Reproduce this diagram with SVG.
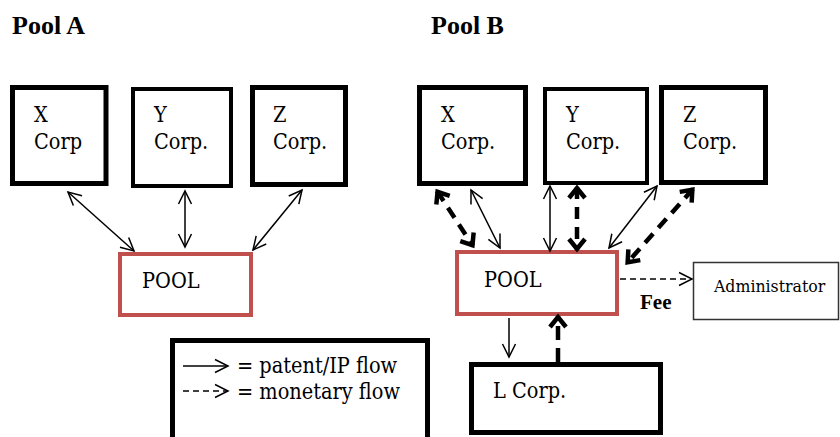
<svg xmlns="http://www.w3.org/2000/svg" width="840" height="437" viewBox="0 0 840 437">
<defs>
<style>
.t{font-family:"DejaVu Serif Condensed","DejaVu Serif",serif;font-stretch:condensed;fill:#000}
.lbl{font-size:21.5px}
.head{font-family:"Liberation Serif",serif;font-size:26px;font-weight:bold;fill:#000}
.corp{fill:#fff;stroke:#000;stroke-width:5}
.corp4{fill:#fff;stroke:#000;stroke-width:4}
.pool{fill:#fff;stroke:#c0504d;stroke-width:4}
.thin{fill:none;stroke:#000;stroke-width:1.5}
.thick{fill:none;stroke:#000;stroke-width:4.5;stroke-dasharray:12 8}
.dash{fill:none;stroke:#000;stroke-width:1.5;stroke-dasharray:6 4}
</style>
<marker id="ah" markerUnits="userSpaceOnUse" viewBox="-14 -8 16 16" markerWidth="16" markerHeight="16" refX="0" refY="0" orient="auto-start-reverse" overflow="visible">
<path d="M-13,-6.5 L0,0 L-13,6.5" fill="none" stroke="#000" stroke-width="1.5" stroke-dasharray="none"/>
</marker>
<marker id="ahk" markerUnits="userSpaceOnUse" viewBox="-14 -10 16 20" markerWidth="16" markerHeight="20" refX="0" refY="0" orient="auto-start-reverse" overflow="visible">
<path d="M-11,-8 L-1,0 L-11,8" fill="none" stroke="#000" stroke-width="4.5" stroke-dasharray="none" stroke-linejoin="miter"/>
</marker>
</defs>
<rect width="840" height="437" fill="#fff"/>

<text class="head" x="12" y="34">Pool A</text>
<text class="head" x="431" y="34">Pool B</text>

<g id="a-x">
<rect class="corp" x="12.5" y="87.5" width="93.5" height="96"/>
<text class="t lbl" x="34" y="122">X</text>
<text class="t lbl" x="34" y="149">Corp</text>
</g>
<g id="a-y">
<rect class="corp4" x="133" y="89" width="98" height="97"/>
<text class="t lbl" x="154" y="122">Y</text>
<text class="t lbl" x="154" y="149">Corp.</text>
</g>
<g id="a-z">
<rect class="corp" x="252.5" y="87.5" width="93" height="97"/>
<text class="t lbl" x="273" y="122">Z</text>
<text class="t lbl" x="273" y="149">Corp.</text>
</g>
<g id="a-pool">
<rect class="pool" x="120" y="254" width="131" height="61"/>
<text class="t lbl" x="142" y="288">POOL</text>
</g>

<g id="b-x">
<rect class="corp" x="419.5" y="87.5" width="106" height="96"/>
<text class="t lbl" x="441" y="122">X</text>
<text class="t lbl" x="441" y="149">Corp.</text>
</g>
<g id="b-y">
<rect class="corp4" x="545" y="89" width="102" height="94"/>
<text class="t lbl" x="566" y="122">Y</text>
<text class="t lbl" x="566" y="149">Corp.</text>
</g>
<g id="b-z">
<rect class="corp" x="661.5" y="87.5" width="104" height="95"/>
<text class="t lbl" x="683" y="122">Z</text>
<text class="t lbl" x="683" y="149">Corp.</text>
</g>
<g id="b-pool">
<rect class="pool" x="457" y="252" width="160" height="62"/>
<text class="t lbl" x="484" y="287">POOL</text>
</g>
<g id="b-admin">
<rect x="693.5" y="262.5" width="145" height="57" fill="#fff" stroke="#333" stroke-width="1.5"/>
<text class="t" x="714" y="292" style="font-size:17.5px">Administrator</text>
</g>
<g id="b-l">
<rect class="corp" x="471.5" y="364.5" width="189" height="68"/>
<text class="t lbl" x="493" y="398">L Corp.</text>
</g>

<g id="legend">
<rect x="172.5" y="340.5" width="255" height="110" fill="#fff" stroke="#000" stroke-width="5"/>
<line class="thin" x1="183" y1="366" x2="228" y2="366" marker-end="url(#ah)"/>
<line class="dash" x1="183" y1="391" x2="228" y2="391" marker-end="url(#ah)"/>
<text class="t lbl" x="237" y="373">= patent/IP flow</text>
<text class="t lbl" x="237" y="399">= monetary flow</text>
</g>

<g id="connectors">
<line class="thin" x1="68" y1="192" x2="134" y2="251" marker-start="url(#ah)" marker-end="url(#ah)"/>
<line class="thin" x1="185" y1="191" x2="185" y2="247" marker-start="url(#ah)" marker-end="url(#ah)"/>
<line class="thin" x1="302" y1="190" x2="253" y2="250" marker-start="url(#ah)" marker-end="url(#ah)"/>

<line class="thin" x1="471" y1="190" x2="500" y2="248" marker-start="url(#ah)" marker-end="url(#ah)"/>
<line class="thick" x1="437" y1="191" x2="473" y2="246" marker-start="url(#ahk)" marker-end="url(#ahk)"/>
<line class="thin" x1="550" y1="186" x2="550" y2="251" marker-start="url(#ah)" marker-end="url(#ah)"/>
<line class="thick" x1="577" y1="187" x2="577" y2="250" marker-start="url(#ahk)" marker-end="url(#ahk)"/>
<line class="thin" x1="657" y1="186" x2="609" y2="248" marker-start="url(#ah)" marker-end="url(#ah)"/>
<line class="thick" x1="693" y1="189" x2="627" y2="263" marker-start="url(#ahk)" marker-end="url(#ahk)"/>

<line class="dash" x1="620" y1="279" x2="692" y2="279" marker-end="url(#ah)"/>
<text class="head" x="640" y="309" style="font-size:21px">Fee</text>

<line class="thin" x1="509" y1="318" x2="509" y2="357" marker-end="url(#ah)"/>
<line x1="558" y1="362" x2="558" y2="316" fill="none" stroke="#000" stroke-width="4.5" stroke-dasharray="14 8" marker-end="url(#ahk)"/>
</g>
</svg>
